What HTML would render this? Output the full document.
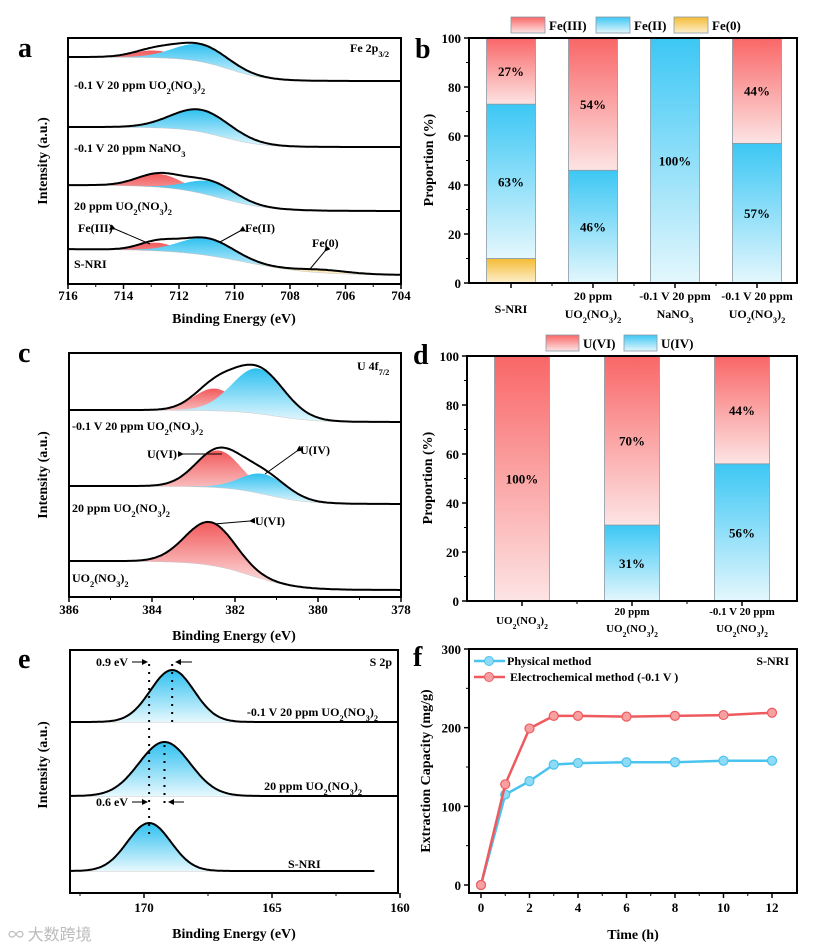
<!DOCTYPE html>
<html><head><meta charset="utf-8">
<style>
html,body{margin:0;padding:0;background:#fff;}
svg{display:block;font-family:"Liberation Serif","Noto Serif CJK SC",serif;font-weight:bold;}
</style></head>
<body>
<svg id="fig" width="819" height="949" viewBox="0 0 819 949" xmlns="http://www.w3.org/2000/svg">
<defs>
<linearGradient id="gRed" x1="0" y1="0" x2="0" y2="1"><stop offset="0" stop-color="#f25a5c"/><stop offset="1" stop-color="#fde9ea"/></linearGradient>
<linearGradient id="gBlue" x1="0" y1="0" x2="0" y2="1"><stop offset="0" stop-color="#2fc0f0"/><stop offset="1" stop-color="#e6f8fe"/></linearGradient>
<linearGradient id="gYel" x1="0" y1="0" x2="0" y2="1"><stop offset="0" stop-color="#f2b92c"/><stop offset="1" stop-color="#fdf1cc"/></linearGradient>
<linearGradient id="bRed" x1="0" y1="0" x2="0" y2="1"><stop offset="0" stop-color="#f96667"/><stop offset="1" stop-color="#fde4e4"/></linearGradient>
<linearGradient id="bBlue" x1="0" y1="0" x2="0" y2="1"><stop offset="0" stop-color="#3cc7f4"/><stop offset="1" stop-color="#e4f7fd"/></linearGradient>
<linearGradient id="bYel" x1="0" y1="0" x2="0" y2="1"><stop offset="0" stop-color="#f4bb34"/><stop offset="1" stop-color="#fdf0cd"/></linearGradient>
<marker id="arr" markerWidth="6" markerHeight="6" refX="5" refY="3" orient="auto"><path d="M0,0 L6,3 L0,6 z" fill="#000"/></marker>
</defs>
<g id="root"></g>
<text x="8" y="940" font-size="16" fill="#bbb" font-weight="normal" font-family="'Noto Sans CJK SC',sans-serif">∞ 大数跨境</text>
</svg>
<script>
// ---------- DATA ----------
const aBase = [[24,710.2,0.7],[20,710.4,0.7],[26,710.5,0.9],[26,709.6,1.2]];
const aRed  = [[712.9,7,0.75],[0,0,1],[712.7,13,0.8],[712.8,8,0.65]];
const aBlue = [[711.2,17,0.95],[711.2,22,1.05],[710.8,14,0.85],[711.0,17,0.95]];
const aYel  = [[0,0,1],[0,0,1],[0,0,1],[706.8,3,0.9]];
const aNames = ['-0.1 V 20 ppm UO2(NO3)2','-0.1 V 20 ppm NaNO3','20 ppm UO2(NO3)2','S-NRI'];
const aTicks = [716,714,712,710,708,706,704];
const bCats = [['','S-NRI'],['20 ppm','UO2(NO3)2'],['-0.1 V 20 ppm','NaNO3'],['-0.1 V 20 ppm','UO2(NO3)2']];
const bFe0 = [10,0,0,0];
const bFe2 = [63,46,100,57];
const bFe3 = [27,54,0,44];
const bTicks = [0,20,40,60,80,100];
const cBase = [[12,381.0,0.5],[18,381.2,0.5],[29,381.6,0.55]];
const cRed  = [[382.5,22,0.5],[382.4,37,0.55],[382.6,43,0.6]];
const cBlue = [[381.45,45,0.62],[381.3,20,0.55],[0,0,1]];
const cNames = ['-0.1 V 20 ppm UO2(NO3)2','20 ppm UO2(NO3)2','UO2(NO3)2'];
const cTicks = [386,384,382,380,378];
const dCats = [['','UO2(NO3)2'],['20 ppm','UO2(NO3)2'],['-0.1 V 20 ppm','UO2(NO3)2']];
const dU4 = [0,31,56];
const dU6 = [100,70,44];
const ePeaks = [[168.9,52,0.85],[169.2,54,1.0],[169.8,48,0.85]];
const eNames = ['-0.1 V 20 ppm UO2(NO3)2','20 ppm UO2(NO3)2','S-NRI'];
const eTicks = [170,165,160];
const fTime = [0,1,2,3,4,6,8,10,12];
const fPhys = [0,115,132,153,155,156,156,158,158];
const fElec = [0,128,199,215,215,214,215,216,219];
const fXTicks = [0,2,4,6,8,10,12];
const fYTicks = [0,100,200,300];

// ---------- HELPERS ----------
const NS='http://www.w3.org/2000/svg';
const root=document.getElementById('root');
function el(tag,attrs,parent){const e=document.createElementNS(NS,tag);for(const k in attrs)e.setAttribute(k,attrs[k]);(parent||root).appendChild(e);return e;}
function chem(s){return s.replace(/O(\d)/g,'O<tspan baseline-shift="sub" font-size="0.7em">$1</tspan>').replace(/\)(\d)/g,')<tspan baseline-shift="sub" font-size="0.7em">$1</tspan>');}
function txt(x,y,s,size,anchor,name,extra){const t=el('text',Object.assign({x:x,y:y,'font-size':size,'text-anchor':anchor||'start'},extra||{}));t.innerHTML=chem(s);


return t;}
function gauss(x,p){return p[1]*Math.exp(-0.5*Math.pow((x-p[0])/p[2],2));}
function step(x,b){return b[0]/(1+Math.exp(-(x-b[1])/b[2]));}
function frame(x0,y0,x1,y1,name){const r=el('rect',{x:x0,y:y0,width:x1-x0,height:y1-y0,fill:'none',stroke:'#000','stroke-width':2});

}
function linScale(d0,d1,r0,r1){return v=>r0+(v-d0)*(r1-r0)/(d1-d0);}

function spectra(X,x0,x1,e0,e1,rightYs,bases,peakSets,fills,name){
  const N=220;
  for(let s=0;s<rightYs.length;s++){
    const ry=rightYs[s];
    const xs=[];for(let i=0;i<=N;i++)xs.push(e0+(e1-e0)*i/N);
    const by=e=>ry-(bases?step(e,bases[s]):0);
    const bl=el('path',{d:'M'+xs.map(e=>X(e).toFixed(1)+','+by(e).toFixed(1)).join(' L'),fill:'none',stroke:'#c8c8c8','stroke-width':1});
    
    
    peakSets.forEach((ps,k)=>{
      const p=ps[s]; if(!p||p[1]<=0)return;
      const top=xs.map(e=>X(e).toFixed(1)+','+(by(e)-gauss(e,p)).toFixed(1));
      const bot=xs.slice().reverse().map(e=>X(e).toFixed(1)+','+by(e).toFixed(1));
      const f=el('path',{d:'M'+top.join(' L')+' L'+bot.join(' L')+'Z',fill:fills[k]});
      
      
    });
    const env=xs.map(e=>{let v=by(e);peakSets.forEach(ps=>{const p=ps[s];if(p&&p[1]>0)v-=gauss(e,p);});return X(e).toFixed(1)+','+v.toFixed(1);});
    const l=el('path',{d:'M'+env.join(' L'),fill:'none',stroke:'#000','stroke-width':2});
    
    
  }
}
function xTicks(X,ticks,minor,yb,ly,size){
  ticks.forEach(t=>{el('line',{x1:X(t),x2:X(t),y1:yb,y2:yb+5,stroke:'#000','stroke-width':1.5});txt(X(t),ly,String(t),size||13,'middle','x-tick-label');});
  minor.forEach(t=>el('line',{x1:X(t),x2:X(t),y1:yb,y2:yb+3,stroke:'#000','stroke-width':1}));
}

// ---------- PANEL A ----------
(function(){
  const x0=68,x1=401,y0=38,y1=284;
  const X=linScale(716,704,x0,x1);
  spectra(X,x0,x1,716,704,[81,147,211,275],aBase,[aRed,aBlue,aYel],['url(#gRed)','url(#gBlue)','url(#gYel)'],'a-spectrum');
  frame(x0,y0,x1,y1,'panel-a-frame');
  xTicks(X,aTicks,[715,713,711,709,707,705],y1,300,13);
  const ly=[89,152,210,268];
  aNames.forEach((n,i)=>txt(74,ly[i],n,12,'start','a-sample-label'));
  txt(350,52,'Fe 2p<tspan baseline-shift="sub" font-size="0.7em">3/2</tspan>',12,'start','a-core-level');
  txt(78,232,'Fe(III)',12,'start','fe3-annotation');txt(245,232,'Fe(II)',12,'start','fe2-annotation');txt(312,247,'Fe(0)',12,'start','fe0-annotation');
  el('line',{x1:115,y1:229,x2:150,y2:244,stroke:'#000','stroke-width':1,'marker-start':'url(#arr)'});
  el('line',{x1:240,y1:231,x2:220,y2:242,stroke:'#000','stroke-width':1,'marker-start':'url(#arr)'});
  el('line',{x1:325,y1:251,x2:310,y2:269,stroke:'#000','stroke-width':1,'marker-start':'url(#arr)'});
  txt(234,323,'Binding Energy (eV)',14,'middle','a-x-axis-title');
  txt(0,0,'Intensity (a.u.)',14,'middle','a-y-axis-title',{transform:'translate(47,161) rotate(-90)'});
  txt(18,57,'a',28,'start','panel-label-a');
})();

function barPanel(x0,y0,x1,y1,cats,stacks,grads,labels,centers,bw,name){
  const Y=linScale(0,100,y1,y0);
  cats.forEach((c,i)=>{
    let acc=0;
    stacks.forEach((arr,k)=>{
      const v=Math.min(arr[i],100-acc); if(v<=0)return;
      const r=el('rect',{x:centers[i]-bw/2,y:Y(acc+v),width:bw,height:Y(acc)-Y(acc+v),fill:grads[k],stroke:'#8a9aa5','stroke-width':0.8});
      
      
      if(labels[k]&&arr[i]>=20) txt(centers[i],Y(acc+v/2)+5,arr[i]+'%',13,'middle',name+'-value-label');
      acc+=v;
    });
  });
  frame(x0,y0,x1,y1,name+'-frame');
  bTicks.forEach(t=>{el('line',{x1:x0-5,x2:x0,y1:Y(t),y2:Y(t),stroke:'#000','stroke-width':1.5});txt(x0-8,Y(t)+5,String(t),13,'end',name+'-y-tick-label');});
  [10,30,50,70,90].forEach(t=>el('line',{x1:x0-3,x2:x0,y1:Y(t),y2:Y(t),stroke:'#000','stroke-width':1}));
  centers.forEach(c=>el('line',{x1:c,x2:c,y1:y1,y2:y1+5,stroke:'#000','stroke-width':1.5}));
  for(let i=0;i<centers.length-1;i++){const m=(centers[i]+centers[i+1])/2;el('line',{x1:m,x2:m,y1:y1,y2:y1+3,stroke:'#000','stroke-width':1});}
  return Y;
}

// ---------- PANEL B ----------
(function(){
  const x0=469,y0=38,x1=797,y1=283;
  const centers=[511,593,675,757];
  barPanel(x0,y0,x1,y1,bCats,[bFe0,bFe2,bFe3],['url(#bYel)','url(#bBlue)','url(#bRed)'],[false,true,true],centers,49,'b');
  bCats.forEach((c,i)=>{ if(c[0])txt(centers[i],300,c[0],12,'middle','b-category-label'); txt(centers[i],c[0]?318:313,c[1],12,'middle','b-category-label');});
  txt(0,0,'Proportion (%)',14,'middle','b-y-axis-title',{transform:'translate(433,160) rotate(-90)'});
  txt(415,58,'b',28,'start','panel-label-b');
  const leg=[['url(#bRed)','Fe(III)',511],['url(#bBlue)','Fe(II)',596],['url(#bYel)','Fe(0)',674]];
  leg.forEach(l=>{el('rect',{x:l[2],y:17,width:34,height:16,fill:l[0],stroke:'#8a9aa5','stroke-width':0.8});txt(l[2]+38,30,l[1],13,'start','b-legend-entry');});
})();

// ---------- PANEL C ----------
(function(){
  const x0=69,x1=401,y0=353,y1=597;
  const X=linScale(386,378,x0,x1);
  spectra(X,x0,x1,386,378,[422,504,590],cBase,[cRed,cBlue],['url(#gRed)','url(#gBlue)'],'c-spectrum');
  frame(x0,y0,x1,y1,'panel-c-frame');
  xTicks(X,cTicks,[385,383,381,379],y1,614,13);
  const ly=[430,512,582];
  cNames.forEach((n,i)=>txt(72,ly[i],n,12,'start','c-sample-label'));
  txt(357,370,'U 4f<tspan baseline-shift="sub" font-size="0.7em">7/2</tspan>',12,'start','c-core-level');
  txt(147,458,'U(VI)',12,'start','u6-annotation');txt(300,454,'U(IV)',12,'start','u4-annotation');txt(255,525,'U(VI)',12,'start','u6-annotation-2');
  el('line',{x1:183,y1:454,x2:222,y2:454,stroke:'#000','stroke-width':1,'marker-start':'url(#arr)'});
  el('line',{x1:297,y1:451,x2:265,y2:474,stroke:'#000','stroke-width':1,'marker-start':'url(#arr)'});
  el('line',{x1:250,y1:521,x2:214,y2:524,stroke:'#000','stroke-width':1,'marker-start':'url(#arr)'});
  txt(234,640,'Binding Energy (eV)',14,'middle','c-x-axis-title');
  txt(0,0,'Intensity (a.u.)',14,'middle','c-y-axis-title',{transform:'translate(47,475) rotate(-90)'});
  txt(18,362,'c',28,'start','panel-label-c');
})();

// ---------- PANEL D ----------
(function(){
  const x0=467,y0=356,x1=797,y1=601;
  const centers=[522,632,742];
  barPanel(x0,y0,x1,y1,dCats,[dU4,dU6],['url(#bBlue)','url(#bRed)'],[true,true],centers,55,'d');
  dCats.forEach((c,i)=>{ if(c[0])txt(centers[i],615,c[0],11,'middle','d-category-label'); txt(centers[i],c[0]?632:624,c[1],11,'middle','d-category-label');});
  txt(0,0,'Proportion (%)',14,'middle','d-y-axis-title',{transform:'translate(432,478) rotate(-90)'});
  txt(413,364,'d',28,'start','panel-label-d');
  const leg=[['url(#bRed)','U(VI)',546],['url(#bBlue)','U(IV)',624]];
  leg.forEach(l=>{el('rect',{x:l[2],y:335,width:33,height:16,fill:l[0],stroke:'#8a9aa5','stroke-width':0.8});txt(l[2]+37,348,l[1],13,'start','d-legend-entry');});
})();

// ---------- PANEL E ----------
(function(){
  const x0=70,x1=398,y0=650,y1=893;
  const X=linScale(170,165,144,272);
  const e0=172.9, e1s=[160.1,160.1,161.0];
  const rys=[722,796,871];
  rys.forEach((ry,s)=>{
    spectra(X,x0,x1,e0,e1s[s],[ry],null,[[ePeaks[s]]],['url(#gBlue)'],'e-spectrum-'+s);
  });
  frame(x0,y0,x1,y1,'panel-e-frame');
  xTicks(X,eTicks,[172.5,167.5,162.5],y1,912,13);
  const ly=[716,790,868];const lx=[378,362,288];
  eNames.forEach((n,i)=>txt(lx[i],ly[i],n,12,i<2?'end':'start','e-sample-label'));
  txt(392,666,'S 2p',12,'end','e-core-level');
  const d1=X(ePeaks[2][0]),d2=X(ePeaks[1][0]),d3=X(ePeaks[0][0]);
  [[d1,664,840],[d2,745,808],[d3,664,722]].forEach(d=>el('line',{x1:d[0],x2:d[0],y1:d[1],y2:d[2],stroke:'#000','stroke-width':2,'stroke-dasharray':'2,6'}));
  txt(96,666,'0.9 eV',12,'start','shift-label-top');
  el('line',{x1:132,y1:662,x2:147,y2:662,stroke:'#000','stroke-width':1,'marker-end':'url(#arr)'});
  el('line',{x1:192,y1:662,x2:176,y2:662,stroke:'#000','stroke-width':1,'marker-end':'url(#arr)'});
  txt(96,806,'0.6 eV',12,'start','shift-label-bottom');
  el('line',{x1:132,y1:802,x2:147,y2:802,stroke:'#000','stroke-width':1,'marker-end':'url(#arr)'});
  el('line',{x1:184,y1:802,x2:169,y2:802,stroke:'#000','stroke-width':1,'marker-end':'url(#arr)'});
  txt(234,938,'Binding Energy (eV)',14,'middle','e-x-axis-title');
  txt(0,0,'Intensity (a.u.)',14,'middle','e-y-axis-title',{transform:'translate(47,765) rotate(-90)'});
  txt(18,668,'e',28,'start','panel-label-e');
})();

// ---------- PANEL F ----------
(function(){
  const x0=469,y0=649,x1=797,y1=893;
  const X=linScale(0,12,481,772), Y=linScale(0,300,885,649);
  frame(x0,y0,x1,y1,'panel-f-frame');
  fXTicks.forEach(t=>{el('line',{x1:X(t),x2:X(t),y1:y1,y2:y1+5,stroke:'#000','stroke-width':1.5});txt(X(t),912,String(t),13,'middle','f-x-tick-label');});
  [1,3,5,7,9,11].forEach(t=>el('line',{x1:X(t),x2:X(t),y1:y1,y2:y1+3,stroke:'#000','stroke-width':1}));
  fYTicks.forEach(t=>{el('line',{x1:x0-5,x2:x0,y1:Y(t),y2:Y(t),stroke:'#000','stroke-width':1.5});txt(x0-8,Y(t)+5,String(t),13,'end','f-y-tick-label');});
  [50,150,250].forEach(t=>el('line',{x1:x0-3,x2:x0,y1:Y(t),y2:Y(t),stroke:'#000','stroke-width':1}));
  const series=[[fPhys,'#4ac3ee','#8fdaf5','physical'],[fElec,'#ee5a5e','#f7a0a2','electrochemical']];
  series.forEach(s=>{
    const pl=el('polyline',{points:fTime.map((t,i)=>X(t)+','+Y(s[0][i])).join(' '),fill:'none',stroke:s[1],'stroke-width':2.5});
    
    
    fTime.forEach((t,i)=>{const c=el('circle',{cx:X(t),cy:Y(s[0][i]),r:4.5,fill:s[2],stroke:s[1],'stroke-width':1.2});
      
      });
  });
  el('line',{x1:474,x2:505,y1:661,y2:661,stroke:'#4ac3ee','stroke-width':2.5});el('circle',{cx:489,cy:661,r:4.5,fill:'#8fdaf5',stroke:'#4ac3ee'});
  txt(507,665,'Physical method',12,'start','f-legend-physical');
  el('line',{x1:474,x2:505,y1:677,y2:677,stroke:'#ee5a5e','stroke-width':2.5});el('circle',{cx:489,cy:677,r:4.5,fill:'#f7a0a2',stroke:'#ee5a5e'});
  txt(510,681,'Electrochemical method (-0.1 V )',12,'start','f-legend-electrochemical');
  txt(789,665,'S-NRI',12,'end','f-sample-label');
  txt(633,939,'Time (h)',14,'middle','f-x-axis-title');
  txt(0,0,'Extraction Capacity (mg/g)',14,'middle','f-y-axis-title',{transform:'translate(430,771) rotate(-90)'});
  txt(413,666,'f',28,'start','panel-label-f');
})();
</script>
</body></html>
